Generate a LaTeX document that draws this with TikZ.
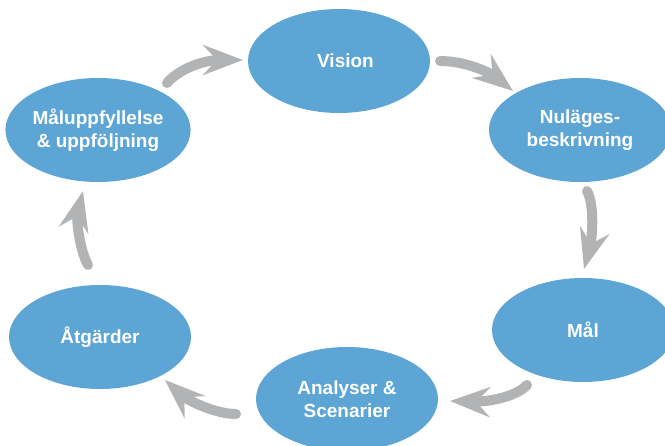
\documentclass[tikz,border=0pt]{standalone}
\usepackage{fontspec}
\setmainfont{Liberation Sans}
\usetikzlibrary{arrows.meta,shapes.geometric,calc}
\definecolor{blobblue}{HTML}{5CA5D5}
\definecolor{arrowgrey}{HTML}{B2B3B5}
\begin{document}
\begin{tikzpicture}[x=1pt,y=-1pt,
  stage/.style={ellipse, fill=blobblue, minimum width=182pt, minimum height=104pt,
    inner sep=0pt, text=white, font=\fontsize{19}{23}\selectfont\bfseries, align=center},
  flow/.style={draw=arrowgrey, line width=10pt, line cap=round,
    -{Stealth[length=40pt,width=30pt,inset=14pt]}}]
\useasboundingbox (0,0) rectangle (665,446);
\clip (0,0) rectangle (665,446);
\node[stage] (vision) at (339,61) {\hspace*{13pt}Vision};
\node[stage] (nul) at (580,130) {Nuläges-\\beskrivning};
\node[stage] (mal) at (583,330) {Mål};
\node[stage] (ana) at (347,399) {Analyser \&\\Scenarier};
\node[stage] (atg) at (100,337) {Åtgärder};
\node[stage] (malu) at (98,130) {Måluppfyllelse\\\& uppföljning};
\draw[flow] ($(malu)+(69,-47)$) .. controls +(13,-15) and +(-38,0) .. ($(vision)+(-96,-1)$);
\draw[flow] ($(vision)+(101,0)$) .. controls +(25,0) and +(-24,-19) .. ($(nul)+(-67,-39)$);
\draw[flow] ($(nul)+(7,61)$) .. controls +(8,14) and +(8,-29) .. ($(mal)+(1,-61)$);
\draw[flow] ($(mal)+(-56,55)$) .. controls +(-12,13) and +(35,1) .. ($(ana)+(103,2)$);
\draw[flow] ($(ana)+(-111,15)$) .. controls +(-21,0) and +(22,20) .. ($(atg)+(65,43)$);
\draw[flow] ($(atg)+(-12,-72)$) .. controls +(-8,-14) and +(-7,29) .. ($(malu)+(-15,61)$);
\end{tikzpicture}
\end{document}
